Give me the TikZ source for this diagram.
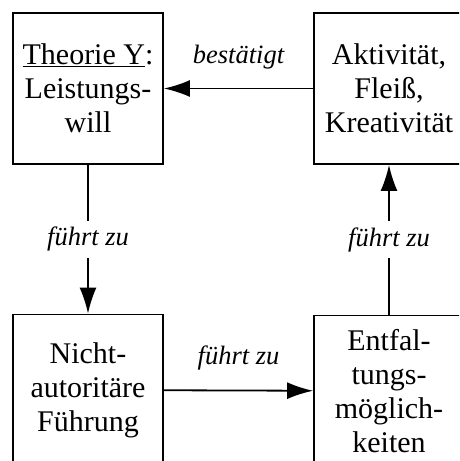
\documentclass[tikz,border=0pt]{standalone}
\usepackage{fontspec}
\setmainfont{Liberation Serif}
\usetikzlibrary{arrows.meta,positioning}

\begin{document}
\begin{tikzpicture}[
    x=1pt, y=-1pt,
    box/.style={
      draw, line width=1.8pt,
      minimum width=150pt, minimum height=151pt,
      align=center, inner sep=0pt,
      font=\fontsize{30}{34}\selectfont
    },
    lbl/.style={
      font=\fontsize{26.5}{30}\selectfont\itshape
    },
    flow/.style={
      line width=1.8pt, -{Latex[length=26pt,width=17pt]}
    }
  ]

    \clip (0,0) rectangle (459,461);

    % Boxes (four corners)
    \node[box] (theory)   at ( 88, 88.5) {\underline{Theorie Y}:\\Leistungs-\\will};
    \node[box] (activity) at (389, 88.5) {Aktivität,\\Fleiß,\\Kreativität};
    \node[box] (lead)     at ( 88, 390)  {Nicht-\\autoritäre\\Führung};
    \node[box] (develop)  at (389, 391)  {Entfal-\\tungs-\\möglich-\\keiten};

    % Cycle of arrows
    \draw[flow] (theory) -- node[lbl, fill=white, inner sep=3pt, text height=22pt, text depth=9pt] {führt zu} (lead);
    \draw[flow] (lead) -- node[lbl, anchor=base, yshift=26pt] {führt zu} (develop);
    \draw[flow] (develop) -- node[lbl, fill=white, inner sep=3pt, text height=22pt, text depth=9pt] {führt zu} (activity);
    \draw[flow] (activity) -- node[lbl, anchor=base, yshift=25pt] {bestätigt} (theory);

  \end{tikzpicture}
\end{document}
